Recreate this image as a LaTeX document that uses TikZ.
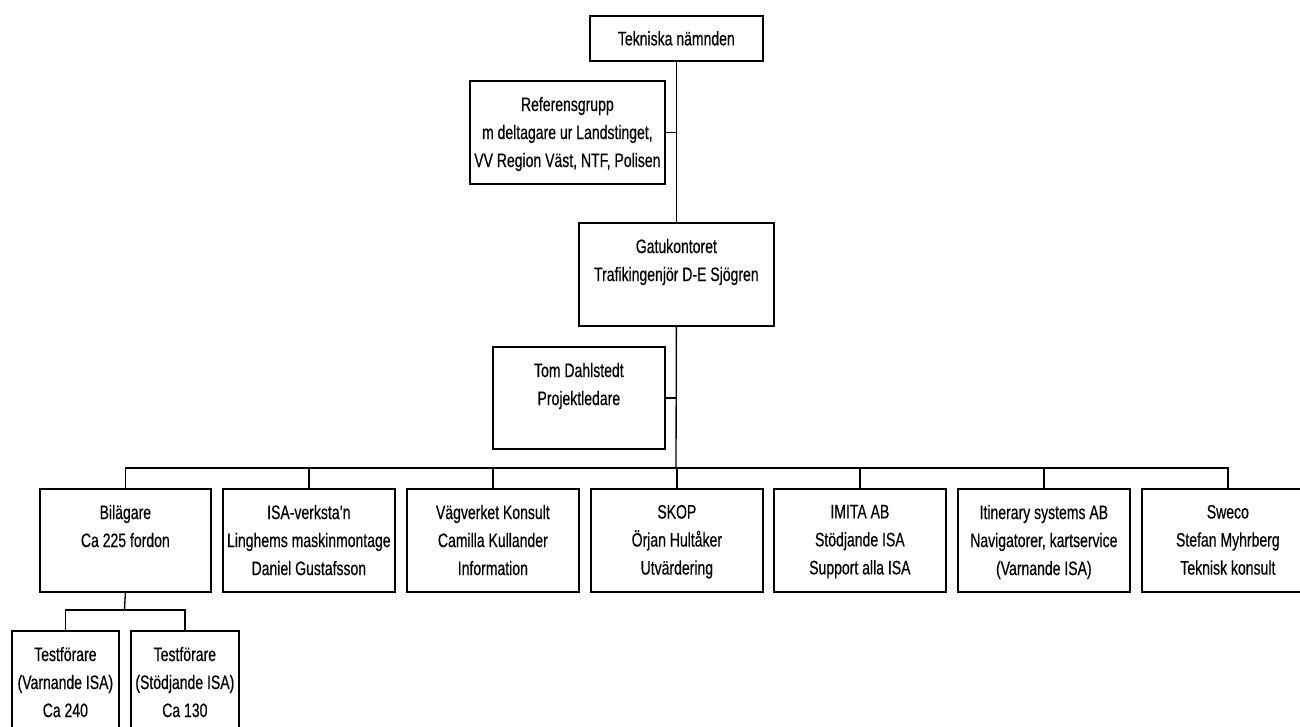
\documentclass[tikz,border=0pt]{standalone}
\usepackage{fontspec}
\setmainfont{Liberation Sans}[FakeStretch=0.72,FakeBold=0.4]
\begin{document}
\begin{tikzpicture}[x=0.75pt,y=-0.75pt,
  boxst/.style={draw=black,line width=1.3pt,rectangle,inner sep=0pt,fill=white},
  txtst/.style={align=center,inner sep=0pt,font=\fontsize{14.6pt}{21pt}\selectfont},
  conn/.style={draw=black,line width=1pt}]
\useasboundingbox (0,0) rectangle (1300,726);
\clip (0,0) rectangle (1300,726);
\newcommand\obox[6]{%
  \node[boxst, minimum width={(#4-#2)*0.75pt}, minimum height={(#5-#3)*0.75pt}, anchor=north west] (#1) at (#2,#3) {};
  \node[txtst, anchor=north] (#1t) at ([yshift=-12.5pt]#1.north) {#6};}
% top
\node[boxst, txtst, minimum width={173*0.75pt}, minimum height={45*0.75pt}, anchor=north west] (T) at (589,15) {Tekniska nämnden};
\obox{R}{469}{80}{664}{183}{Referensgrupp\\m deltagare ur Landstinget,\\VV Region Väst, NTF, Polisen}
\obox{G}{578}{222}{773}{325}{Gatukontoret\\Trafikingenjör D-E Sjögren}
\obox{P}{492}{346}{664}{448}{Tom Dahlstedt\\Projektledare}
% bottom row
\obox{B}{39}{488}{210}{591}{Bilägare\\Ca 225 fordon}
\obox{I}{222}{488}{394}{591}{ISA-verksta'n\\Linghems maskinmontage\\Daniel Gustafsson}
\obox{V}{406}{488}{578}{591}{Vägverket Konsult\\Camilla Kullander\\Information}
\obox{S}{590}{488}{762}{591}{SKOP\\Örjan Hultåker\\Utvärdering}
\obox{M}{773}{488}{945}{591}{IMITA AB\\Stödjande ISA\\Support alla ISA}
\obox{N}{957}{488}{1129}{591}{Itinerary systems AB\\Navigatorer, kartservice\\(Varnande ISA)}
\obox{W}{1141}{488}{1313}{591}{Sweco\\Stefan Myhrberg\\Teknisk konsult}
% sub row
\obox{F}{11}{630}{118}{735}{Testförare\\(Varnande ISA)\\Ca 240}
\obox{H}{130}{630}{238}{735}{Testförare\\(Stödjande ISA)\\Ca 130}
% connectors
\coordinate (bus) at (676,468);
\coordinate (sub) at (124.5,610);
\draw[conn] (T.south) -- (G.north);
\draw[conn] (R.east) -- (R.east -| T.south);
\draw[conn] (G.south) -- (bus);
\draw[conn] (P.east) -- (P.east -| G.south);
\foreach \c in {B,I,V,S,M,N,W} {\draw[conn] (\c.north) |- (bus);}
\draw[conn] (B.south) -- (sub);
\draw[conn] (F.north) |- (sub);
\draw[conn] (H.north) |- (sub);
\end{tikzpicture}
\end{document}
